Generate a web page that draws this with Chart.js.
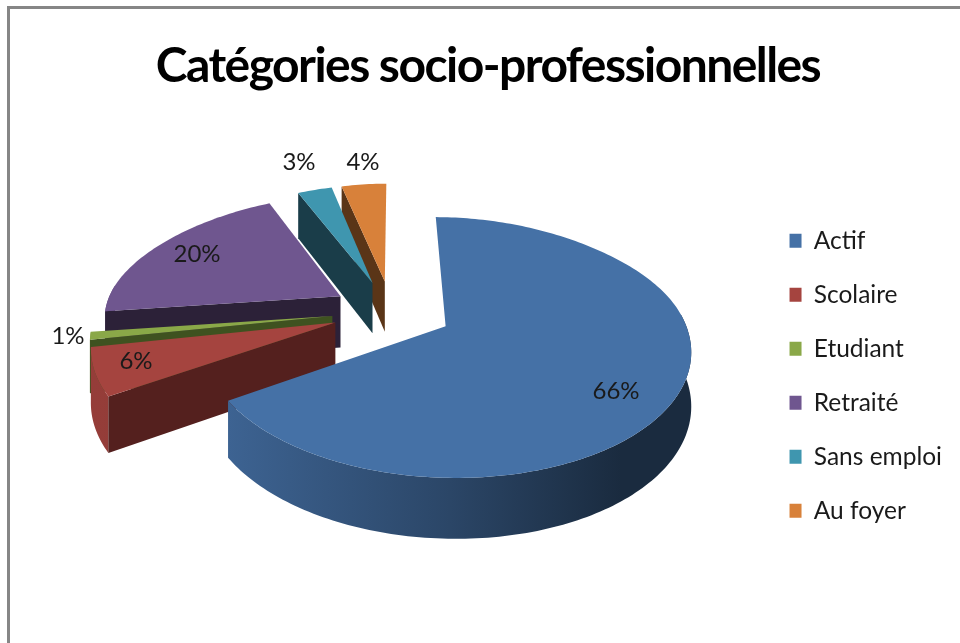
<!DOCTYPE html>
<html><head><meta charset="utf-8">
<style>
html,body{margin:0;padding:0;background:#fff;overflow:hidden}
#frame{position:absolute;left:7px;top:6px;width:953px;height:637px;border-top:3px solid #868686;border-left:3px solid #868686;box-sizing:border-box}
#wrap{position:absolute;left:0;top:0;width:960px;height:643px}
</style>
<script src="https://cdn.jsdelivr.net/npm/chart.js@4"></script>
</head><body>
<div id="frame"></div>
<div id="wrap"><canvas id="c" width="960" height="643"></canvas></div>
<script>
const categories = ['Actif','Scolaire','Etudiant','Retraité','Sans emploi','Au foyer'];
const shares = [66,6,1,20,3,4];
const topColors = ['#4571A6','#A5443F','#8AA848','#6F568F','#3F96AF','#D8813A'];
const wallColors = ['#1F3A5C','#54201E','#3F5220','#2C2138','#1A3D49','#5A3517'];
const labelX = [616,136,68,197,299,363];
const labelY = [391,361,336,254,162,162];
const titleText = 'Catégories socio-professionnelles';

const VIEW = {cx:392, cy:311, ky:122, persp:.16, perspBack:.08, depth:52, depthPersp:.13, radius:236, explode:60};
function project(u,v,drop){
  const y=v/VIEW.radius;
  const w=1-VIEW.persp*y;
  const wx=w+(y<0?VIEW.perspBack*y*y:0);
  return [VIEW.cx+u/wx, VIEW.cy+VIEW.ky*y/w+(drop?VIEW.depth/(1-VIEW.depthPersp*y):0)];
}
function shade(hex,f){
  const n=parseInt(hex.slice(1),16);
  return `rgb(${Math.round((n>>16&255)*f)},${Math.round((n>>8&255)*f)},${Math.round((n&255)*f)})`;
}
function poly(ctx,pts,fill){
  ctx.beginPath();
  pts.forEach((p,i)=>i?ctx.lineTo(p[0],p[1]):ctx.moveTo(p[0],p[1]));
  ctx.closePath();
  ctx.fillStyle=fill;ctx.fill();
}
function wallShows(a,e,inside){
  const ex=e[0]-a[0], ey=e[1]-a[1], len=Math.hypot(ex,ey);
  const sideDown=ex/len;                                  // side of a point straight below the apex
  const sideIn=(ex*(inside[1]-a[1])-ey*(inside[0]-a[0]))/len;
  return Math.abs(sideDown)>0.12 && sideDown*sideIn<0;
}
const tiltedPie={
  id:'tiltedPie',
  afterLayout(chart){
    const b=chart.titleBlock;
    if(b && !b._squeezed){
      const d=b.draw;
      b.draw=function(){
        const c=this.ctx;c.save();c.letterSpacing='-1.55px';d.apply(this,arguments);c.restore();
      };
      b._squeezed=true;
    }
  },
  beforeDatasetsDraw(chart){
    const ctx=chart.ctx, arcs=chart.getDatasetMeta(0).data;
    const order=[5,4,3,2,1,0];
    ctx.save();
    order.forEach(i=>{
      const a=arcs[i], off=a.options.offset;
      const mid=(a.startAngle+a.endAngle)/2;
      const ax=Math.cos(mid)*off, ay=Math.sin(mid)*off, R=a.outerRadius;
      const rim=[], front=[];
      const n=Math.max(6,Math.ceil((a.endAngle-a.startAngle)/0.02));
      for(let k=0;k<=n;k++){
        const t=a.startAngle+(a.endAngle-a.startAngle)*k/n;
        const q=[ax+Math.cos(t)*R, ay+Math.sin(t)*R];
        rim.push(q);
        if(Math.sin(t)>-0.1) front.push(q);   // the far side of the rim faces away from the viewer
      }
      const apex=[ax,ay];
      const P=(q,d)=>project(q[0],q[1],d);
      // outer wall
      if(front.length>1){
        const g=ctx.createLinearGradient(90,0,700,0);
        const c=topColors[i];
        g.addColorStop(0,shade(c,.9));
        g.addColorStop(.226,shade(c,.88));
        g.addColorStop(.59,shade(c,.62));
        g.addColorStop(.87,shade(c,.38));
        g.addColorStop(1,shade(c,.38));
        poly(ctx,front.map(q=>P(q,0)).concat(front.slice().reverse().map(q=>P(q,1))),g);
      }
      // radial walls
      const inside=P(rim[n>>1],0);
      [rim[0],rim[n]].forEach(e=>{
        if(wallShows(P(apex,0),P(e,0),inside))
          poly(ctx,[P(apex,0),P(e,0),P(e,1),P(apex,1)],wallColors[i]);
      });
      // top face
      poly(ctx,[P(apex,0)].concat(rim.map(q=>P(q,0))),a.options.backgroundColor);
    });
    ctx.font='24px Lato';ctx.fillStyle='#1a1a1a';ctx.textAlign='center';ctx.textBaseline='middle';
    shares.forEach((s,i)=>ctx.fillText(s+'%',labelX[i],labelY[i]));
    ctx.restore();
    return false;
  }
};
new Chart(document.getElementById('c'),{
  type:'pie',
  data:{labels:categories,datasets:[{data:shares,backgroundColor:topColors,borderWidth:0,offset:VIEW.explode}]},
  plugins:[tiltedPie],
  options:{
    responsive:false,animation:false,radius:VIEW.radius,
    layout:{padding:{left:24,right:8,top:38,bottom:20}},
    plugins:{
      tooltip:{enabled:false},
      title:{display:true,text:titleText,color:'#000',font:{family:'Lato',size:48,weight:'bold'},padding:{top:0,bottom:33}},
      legend:{position:'right',fullSize:false,labels:{color:'#1a1a1a',font:{family:'Lato',size:24.5},boxWidth:12,boxHeight:14,padding:29.5}}
    }
  }
});
</script>
</body></html>
